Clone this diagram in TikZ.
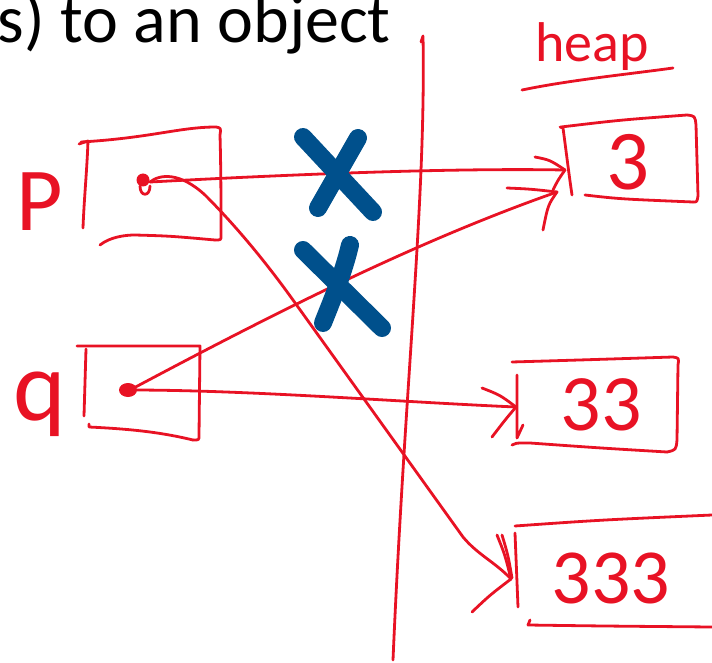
\documentclass[tikz,border=0pt]{standalone}
\usepackage{fontspec}
\setmainfont{Carlito}
\definecolor{inkred}{RGB}{232,18,36}
\definecolor{xblue}{RGB}{0,80,140}
\tikzset{
  ink/.style={draw=inkred, line width=2.8pt, line cap=round, line join=round},
  xmark/.style={draw=xblue, line width=18pt, line cap=round},
  hand/.style={text=inkred, inner sep=0pt, anchor=base}
}
\begin{document}
\begin{tikzpicture}[x=1pt,y=-1pt]
\useasboundingbox (0,0) rectangle (712,663);
% title
\node[anchor=base east, inner sep=0pt, font=\fontsize{68}{68}\selectfont] (title) at (391,43) {s) to an object};
% handwritten labels
\node[hand, font=\fontsize{90}{90}\selectfont] (plabel) at (40,230) {P};
\node[hand, font=\fontsize{100}{100}\selectfont] (qlabel) at (40,420) {q};
\node[hand, anchor=base west, font=\fontsize{56}{56}\selectfont] (heaplabel) at (535,62) {heap};
\node[hand, font=\fontsize{85}{85}\selectfont] (v3) at (628,190) {3};
\node[hand, font=\fontsize{80}{80}\selectfont] (v33) at (601,430) {33};
\node[hand, font=\fontsize{78}{78}\selectfont] (v333) at (611,603) {333};
% heap underline
\draw[ink] (522,90) .. controls (570,80) and (630,74) .. (673,68);
% divider
\draw[ink] (421,42) -- (423,36) .. controls (426,200) and (405,380) .. (393,660);
% P box
\draw[ink] (79,144) -- (88,141) .. controls (87,170) and (84,200) .. (83,228);
\draw[ink] (81,142) .. controls (150,138) and (180,127) .. (216,127) .. controls (221,128) .. (220,135)
  .. controls (221,170) and (221,200) .. (221,236) .. controls (221,240) .. (215,240);
\draw[ink] (100,245) .. controls (110,237) and (125,235) .. (135,235) .. controls (170,236) .. (215,240);
% q box
\draw[ink] (77,346) -- (200,346) -- (199,436) .. controls (199,440) .. (193,440);
\draw[ink] (86,349) -- (84,416);
\draw[ink] (89,424) -- (89,427) .. controls (130,429) and (160,432) .. (193,440);
% box 3
\draw[ink] (560,127) -- (563,128) .. controls (566,150) and (569,175) .. (572,195);
\draw[ink] (561,127) .. controls (620,120) .. (687,115) .. controls (695,116) .. (696,125)
  .. controls (697,160) .. (698,196) .. controls (697,202) .. (693,202);
\draw[ink] (585,195) .. controls (620,199) .. (693,202);
% box 33
\draw[ink] (512,362) .. controls (580,360) .. (673,357) .. controls (679,358) .. (678,365)
  -- (677,440) .. controls (676,450) .. (667,452);
\draw[ink] (512,445) .. controls (515,443) .. (530,443) .. controls (600,448) .. (667,452);
\draw[ink] (517,375) -- (517,438) -- (523,425);
% box 333
\draw[ink] (515,526) .. controls (600,520) .. (712,515);
\draw[ink] (515,533) -- (518,607);
\draw[ink] (530,620) -- (528,625) .. controls (600,626) .. (712,627);
% pointer dots
\coordinate (pdot) at (150,182);
\coordinate (qdot) at (130,390);
\fill[inkred] (143,180) circle[radius=6.5];
\draw[ink] (140,186) .. controls (140,197) and (150,197) .. (150,186);
\fill[inkred] (128,390) ellipse[x radius=9, y radius=7];
% arrow tips
\coordinate (tipA) at (565,170);
\coordinate (tipB) at (557,192);
\coordinate (tipC) at (516,407);
\coordinate (tipD) at (511,579);
% P -> 3
\draw[ink] (pdot) .. controls (300,174) and (450,168) .. (tipA);
\draw[ink] (535,157) .. controls (550,160) .. (tipA);
\draw[ink] (tipA) .. controls (558,180) .. (553,190);
% q -> 3
\draw[ink] (qdot) .. controls (280,310) and (420,240) .. (tipB);
\draw[ink] (507,188) .. controls (530,189) .. (tipB);
\draw[ink] (tipB) .. controls (548,205) .. (543,230);
% q -> 33
\draw[ink] (qdot) .. controls (250,390) and (400,402) .. (tipC);
\draw[ink] (482,388) .. controls (500,395) .. (tipC);
\draw[ink] (tipC) .. controls (505,420) .. (492,437);
% P -> 333
\draw[ink] (pdot) .. controls (160,174) and (180,172) .. (205,195) .. controls (240,230) and (270,268) .. (293,300)
  -- (463,537) .. controls (478,555) and (495,562) .. (tipD);
\draw[ink] (497,535) .. controls (505,555) .. (tipD);
\draw[ink] (502,535) .. controls (508,555) .. (512,578);
\draw[ink] (472,612) .. controls (490,595) .. (tipD);
% crosses
\draw[xmark] (303,137) -- (373,212);
\draw[xmark] (358,138) -- (318,208);
\draw[xmark] (303,250) -- (382,328);
\draw[xmark] (350,245) .. controls (343,275) and (330,305) .. (323,323);
\end{tikzpicture}
\end{document}
